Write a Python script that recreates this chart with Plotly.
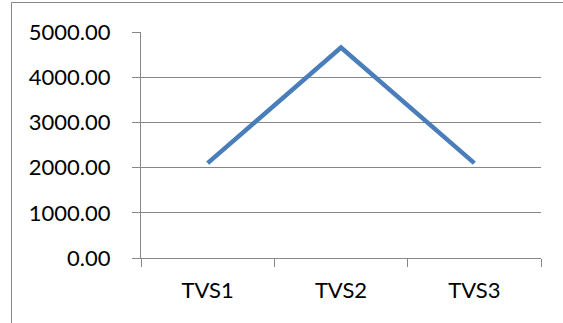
import plotly.graph_objects as go

categories = ["TVS1", "TVS2", "TVS3"]
values = [2100, 4655, 2100]
y_ticks = [0, 1000, 2000, 3000, 4000, 5000]

GRID = "#878787"
FONT = "Lato"

fig = go.Figure(
    go.Scatter(
        x=categories,
        y=values,
        mode="lines",
        line=dict(color="#4A7EBB", width=4.5),
        hoverinfo="skip",
    )
)

# chart-area frame (runs off the right and bottom edges of the page)
left, top, w, h = 141, 32, 400, 226
fig.add_shape(
    type="rect", xref="paper", yref="paper",
    x0=(11.5 - left) / w, x1=(575 - left) / w,
    y0=(top + h - 340) / h, y1=(top + h - 2.5) / h,
    line=dict(color=GRID, width=1), fillcolor="rgba(0,0,0,0)", layer="below",
)

fig.update_layout(
    width=563, height=323,
    margin=dict(l=left, r=563 - left - w, t=top, b=323 - top - h),
    paper_bgcolor="white", plot_bgcolor="white",
    showlegend=False,
    font=dict(family=FONT, size=22, color="#000000"),
    xaxis=dict(
        type="category", range=[-0.5, 2.5],
        tickson="boundaries", ticks="outside", ticklen=8, tickcolor=GRID,
        showline=True, linecolor=GRID, linewidth=1.2,
        showgrid=False, zeroline=False,
        ticklabelstandoff=12,
    ),
    yaxis=dict(
        range=[0, 5000], tickvals=y_ticks, tickformat=".2f",
        ticks="outside", ticklen=8, tickcolor=GRID,
        showline=True, linecolor=GRID, linewidth=1.2,
        showgrid=True, gridcolor=GRID, gridwidth=1.2,
        zeroline=False, ticklabelstandoff=17,
    ),
)

fig.write_html("out.html")
